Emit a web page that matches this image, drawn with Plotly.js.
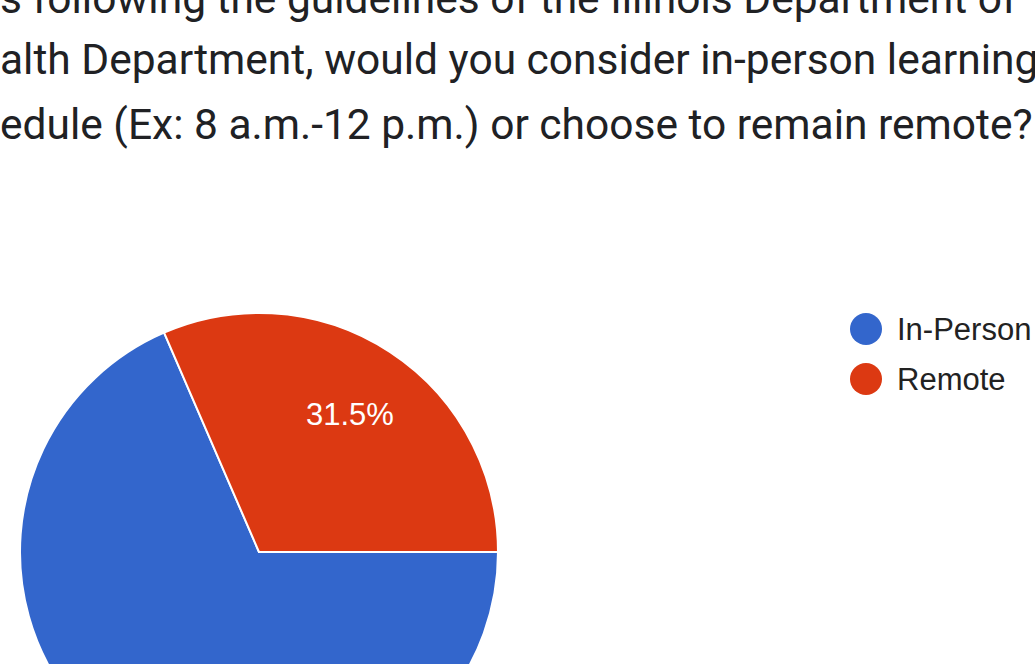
<!DOCTYPE html>
<html>
<head>
<meta charset="utf-8">
<script src="https://cdn.plot.ly/plotly-3.0.1.min.js"></script>
<style>
html,body{margin:0;padding:0;overflow:hidden;background:#fff;width:1035px;height:664px;}
#chart{width:1035px;height:800px;}
</style>
</head>
<body>
<div id="chart"></div>
<script>
// ---- data ----
const categories = ["In-Person", "Remote"];
const percentages = [68.5, 31.5];
const colors = ["#3366cc", "#dc3912"];
const titleLines = [
  "s following the guidelines of the Illinois Department of",
  "alth Department, would you consider in-person learning",
  "edule (Ex: 8 a.m.-12 p.m.) or choose to remain remote?"
];

// ---- layout helpers ----
const W = 1035, H = 800, VIEW_H = 664;
const px = x => x / W;
const py = y => 1 - y / H;

const cx = 259, cy = 552, R = 239;
const startDeg = 0;          // first slice starts at 3 o'clock, goes clockwise
const labelRadius = 0.69;    // label distance as a fraction of the radius

const trace = {
  type: "pie",
  labels: categories,
  values: percentages,
  sort: false,
  direction: "clockwise",
  rotation: 90,
  marker: { colors: colors, line: { color: "#ffffff", width: 2 } },
  textinfo: "none",
  hoverinfo: "label+percent",
  showlegend: false,
  domain: { x: [px(cx - R), px(cx + R)], y: [py(cy + R), py(cy - R)] }
};

const annotations = [];

// slice labels placed along each slice's middle angle (only those inside the visible crop)
const total = percentages.reduce((a, b) => a + b, 0);
let cum = 0;
percentages.forEach((v, i) => {
  const mid = (cum + v / 2) / total;
  cum += v;
  const ang = (startDeg - mid * 360) * Math.PI / 180;
  const lx = cx + labelRadius * R * Math.cos(ang);
  const ly = cy - labelRadius * R * Math.sin(ang);
  if (ly + 20 > VIEW_H) return;
  annotations.push({
    text: (v / total * 100).toFixed(1) + "%",
    xref: "paper", yref: "paper", x: px(lx), y: py(ly),
    xanchor: "center", yanchor: "middle", showarrow: false,
    font: { family: "Liberation Sans, Arial, sans-serif", size: 31, color: "#ffffff" }
  });
});

const titleBaselines = [13, 75, 139];
titleLines.forEach((t, i) => {
  annotations.push({
    text: t, xref: "paper", yref: "paper",
    x: px(-2), y: py(titleBaselines[i] - 15),
    xanchor: "left", yanchor: "middle", showarrow: false,
    font: { family: "Roboto, sans-serif", size: 42.5, color: "#202124" }
  });
});

const shapes = [];
categories.forEach((c, i) => {
  const ly = 329 + i * 50;
  shapes.push({
    type: "circle", xref: "paper", yref: "paper",
    x0: px(850), x1: px(882), y0: py(ly + 16), y1: py(ly - 16),
    fillcolor: colors[i], line: { width: 0 }
  });
  annotations.push({
    text: c, xref: "paper", yref: "paper",
    x: px(895), y: py(ly), xanchor: "left", yanchor: "middle", showarrow: false,
    font: { family: "Liberation Sans, Arial, sans-serif", size: 31, color: "#222222" }
  });
});

const layout = {
  width: W, height: H,
  margin: { l: 0, r: 0, t: 0, b: 0 },
  paper_bgcolor: "#ffffff",
  showlegend: false,
  annotations: annotations,
  shapes: shapes
};

Plotly.newPlot("chart", [trace], layout, { displayModeBar: false, staticPlot: true });
</script>
</body>
</html>
